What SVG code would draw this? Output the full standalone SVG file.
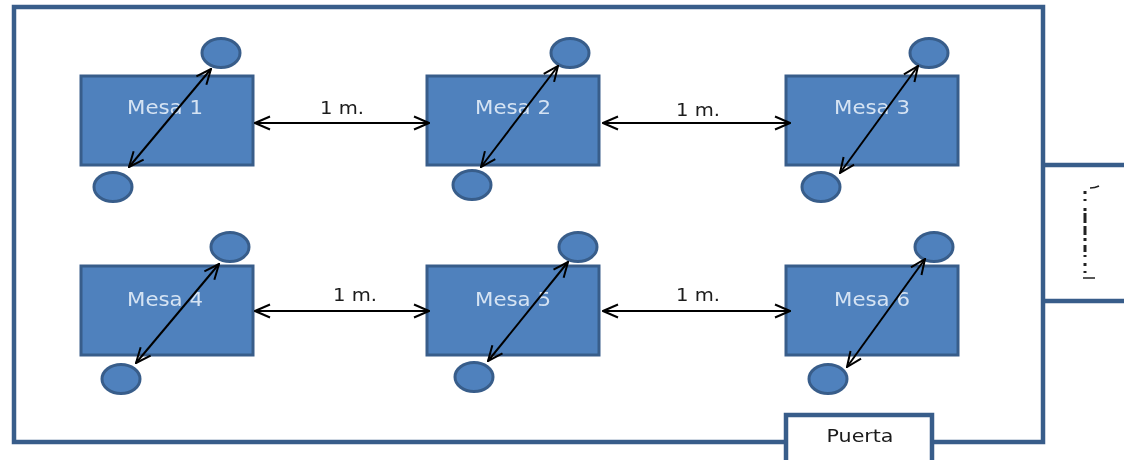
<svg xmlns="http://www.w3.org/2000/svg" width="1124" height="460" viewBox="0 0 1124 460">
<defs>
<marker id="a" viewBox="0 0 18 18" refX="17" refY="9" markerWidth="18" markerHeight="18" markerUnits="userSpaceOnUse" orient="auto-start-reverse"><path d="M2 2.500 L17 9 L2 15.500" fill="none" stroke="#000" stroke-width="2"/></marker>
<filter id="soft" filterUnits="userSpaceOnUse" x="0" y="0" width="1124" height="460"><feGaussianBlur stdDeviation="0.600"/></filter>
</defs>
<style>
.room{fill:#fff;stroke:#385d8a;stroke-width:4.500}
.t{fill:#4f81bd;stroke:#385d8a;stroke-width:3}
.c{fill:#4f81bd;stroke:#385d8a;stroke-width:3}
.l{font-family:"DejaVu Sans",sans-serif;text-anchor:middle;font-size:17px}
.w{fill:#d5e3f3;font-size:19px}
.k{fill:#1a1a1a}
.con{stroke:#000;stroke-width:2;fill:none;marker-start:url(#a);marker-end:url(#a)}
</style>
<rect width="1124" height="460" fill="#fff"/>
<g filter="url(#soft)">
<g id="room"><rect class="room" x="14" y="7" width="1029" height="435"/></g>
<g id="side-room"><path class="room" d="M1045 165H1124M1045 301H1124" fill="none"/>
<path d="M1085 191V277" stroke="#222" stroke-width="3" stroke-dasharray="3 5 2 7 3 2 10 3 9 3 3 4 7 3 2 6" fill="none"/>
<path d="M1090 188Q1095 188 1099 186M1083 278H1095" stroke="#222" stroke-width="1.500" fill="none"/></g>
<g id="mesa1"><rect class="t" x="81" y="76" width="172" height="89"/><text class="l w" x="165" y="114" textLength="76" lengthAdjust="spacingAndGlyphs">Mesa 1</text></g>
<g id="mesa2"><rect class="t" x="427" y="76" width="172" height="89"/><text class="l w" x="513" y="114" textLength="76" lengthAdjust="spacingAndGlyphs">Mesa 2</text></g>
<g id="mesa3"><rect class="t" x="786" y="76" width="172" height="89"/><text class="l w" x="872" y="114" textLength="76" lengthAdjust="spacingAndGlyphs">Mesa 3</text></g>
<g id="mesa4"><rect class="t" x="81" y="266" width="172" height="89"/><text class="l w" x="165" y="306" textLength="76" lengthAdjust="spacingAndGlyphs">Mesa 4</text></g>
<g id="mesa5"><rect class="t" x="427" y="266" width="172" height="89"/><text class="l w" x="513" y="306" textLength="76" lengthAdjust="spacingAndGlyphs">Mesa 5</text></g>
<g id="mesa6"><rect class="t" x="786" y="266" width="172" height="89"/><text class="l w" x="872" y="306" textLength="76" lengthAdjust="spacingAndGlyphs">Mesa 6</text></g>
<g id="silla1a"><ellipse class="c" cx="221" cy="53" rx="19" ry="14.500"/></g>
<g id="silla1b"><ellipse class="c" cx="113" cy="187" rx="19" ry="14.500"/></g>
<g id="silla2a"><ellipse class="c" cx="570" cy="53" rx="19" ry="14.500"/></g>
<g id="silla2b"><ellipse class="c" cx="472" cy="185" rx="19" ry="14.500"/></g>
<g id="silla3a"><ellipse class="c" cx="929" cy="53" rx="19" ry="14.500"/></g>
<g id="silla3b"><ellipse class="c" cx="821" cy="187" rx="19" ry="14.500"/></g>
<g id="silla4a"><ellipse class="c" cx="230" cy="247" rx="19" ry="14.500"/></g>
<g id="silla4b"><ellipse class="c" cx="121" cy="379" rx="19" ry="14.500"/></g>
<g id="silla5a"><ellipse class="c" cx="578" cy="247" rx="19" ry="14.500"/></g>
<g id="silla5b"><ellipse class="c" cx="474" cy="377" rx="19" ry="14.500"/></g>
<g id="silla6a"><ellipse class="c" cx="934" cy="247" rx="19" ry="14.500"/></g>
<g id="silla6b"><ellipse class="c" cx="828" cy="379" rx="19" ry="14.500"/></g>
<g id="puerta"><path class="room" d="M786 460V415H932V460"/><text class="l k" x="860" y="442" textLength="67" lengthAdjust="spacingAndGlyphs">Puerta</text></g>
<g id="connectors">
<line class="con" x1="129" y1="167" x2="211" y2="69"/>
<line class="con" x1="481" y1="167" x2="558" y2="66"/>
<line class="con" x1="840" y1="173" x2="918" y2="66"/>
<line class="con" x1="136" y1="363" x2="219" y2="264"/>
<line class="con" x1="488" y1="361" x2="568" y2="262"/>
<line class="con" x1="847" y1="367" x2="925" y2="259"/>
<line class="con" x1="255" y1="123" x2="429" y2="123"/>
<line class="con" x1="603" y1="123" x2="790" y2="123"/>
<line class="con" x1="255" y1="311" x2="429" y2="311"/>
<line class="con" x1="603" y1="311" x2="790" y2="311"/>
</g>
<g id="labels">
<text class="l k" x="342" y="114" textLength="44" lengthAdjust="spacingAndGlyphs">1 m.</text>
<text class="l k" x="698" y="116" textLength="44" lengthAdjust="spacingAndGlyphs">1 m.</text>
<text class="l k" x="355" y="301" textLength="44" lengthAdjust="spacingAndGlyphs">1 m.</text>
<text class="l k" x="698" y="301" textLength="44" lengthAdjust="spacingAndGlyphs">1 m.</text>
</g>
</g>
</svg>
